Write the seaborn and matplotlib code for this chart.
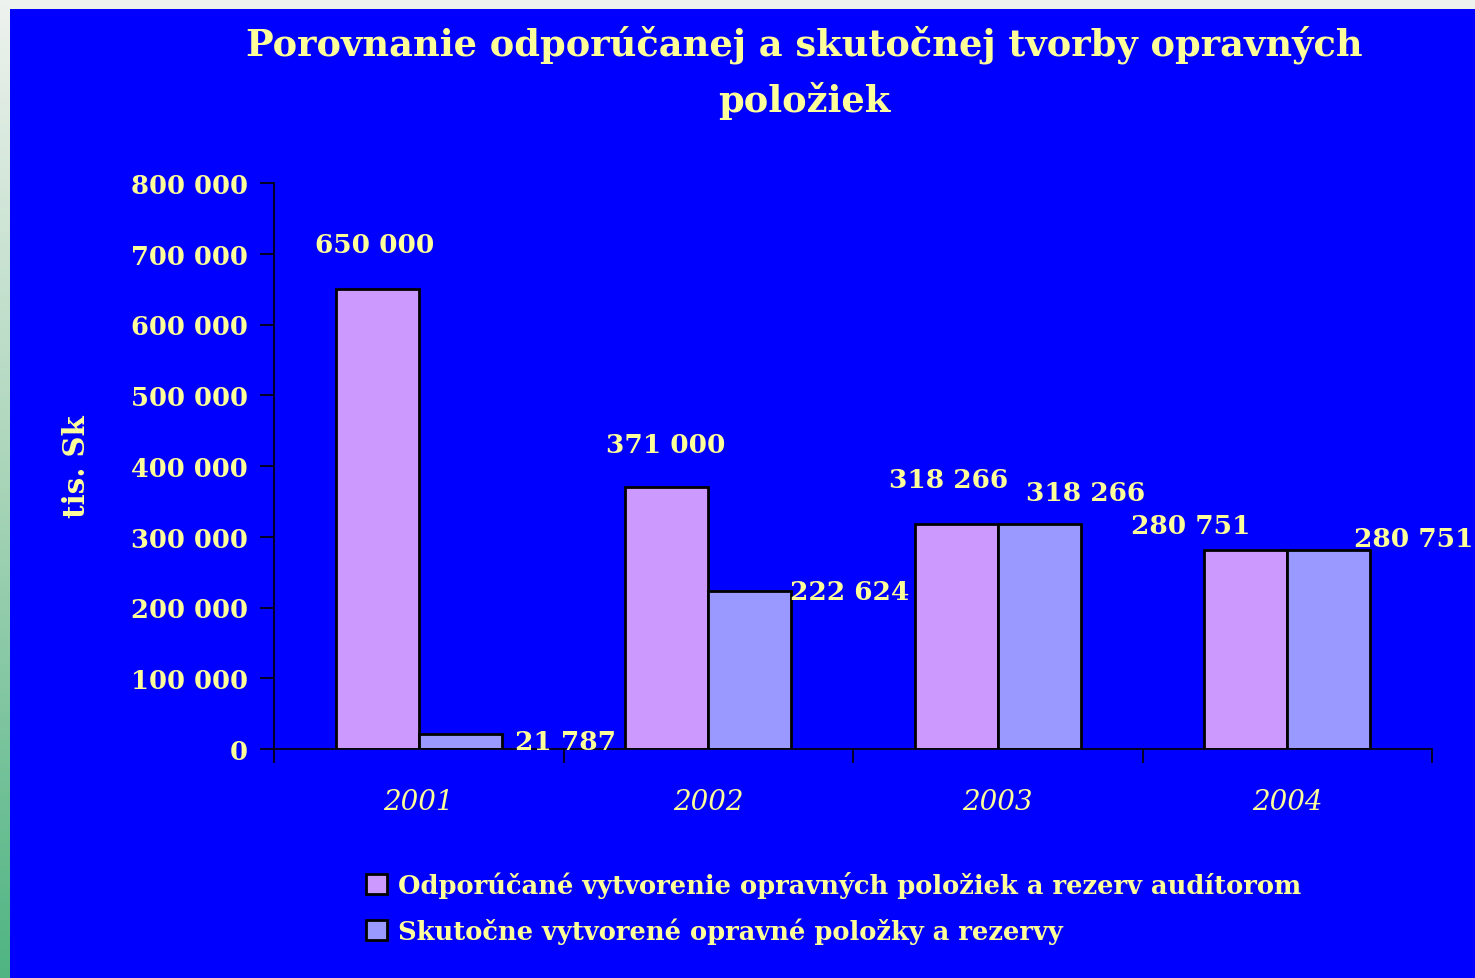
import numpy as np
import pandas as pd
import matplotlib.pyplot as plt
import seaborn as sns
from matplotlib.patches import Rectangle, Patch
from matplotlib.colors import LinearSegmentedColormap

# data
years = ['2001', '2002', '2003', '2004']
recommended = [650000, 371000, 318266, 280751]
actual = [21787, 222624, 318266, 280751]
series_names = ['Odporúčané vytvorenie opravných položiek a rezerv audítorom',
                'Skutočne vytvorené opravné položky a rezervy']
title = 'Porovnanie odporúčanej a skutočnej tvorby opravných\npoložiek'
y_ticks = [0, 100000, 200000, 300000, 400000, 500000, 600000, 700000, 800000]

BG = '#0000FF'
TXT = '#FFFF99'
COLORS = ['#CC99FF', '#9999FF']

df = pd.DataFrame({
    'year': years * 2,
    'value': recommended + actual,
    'series': [series_names[0]] * 4 + [series_names[1]] * 4,
})

sns.set_style('white')
plt.rcParams['font.family'] = ['DejaVu Serif']

fig = plt.figure(figsize=(14.75, 9.79), dpi=100)
fig.patch.set_facecolor('#EEF2EE')
# blue slide area
fig.add_artist(Rectangle((10 / 1475, 0), 1, 1 - 10 / 979, transform=fig.transFigure,
                         facecolor=BG, edgecolor='none', zorder=0))
# left strip gradient
strip = fig.add_axes([0, 0, 10 / 1475, 1])
grad = np.linspace(0, 1, 256).reshape(-1, 1)
cm = LinearSegmentedColormap.from_list('strip', ['#EEF2EE', '#A8D4B8', '#4FB482'])
strip.imshow(grad, aspect='auto', cmap=cm)
strip.axis('off')

ax = fig.add_axes([274 / 1475, 1 - 750 / 979, (1432 - 274) / 1475, (750 - 184) / 979])
ax.set_facecolor(BG)

sns.barplot(data=df, x='year', y='value', hue='series', palette=COLORS,
            width=0.572, gap=0, edgecolor='black', linewidth=2,
            saturation=1, legend=False, ax=ax)

ax.set_xlim(-0.5, 3.5)
ax.set_ylim(0, 800000)
ax.set_yticks(y_ticks)
ax.set_yticklabels([f'{v:,}'.replace(',', ' ') for v in y_ticks])
ax.set_xticks([-0.5, 0.5, 1.5, 2.5, 3.5])
ax.set_xticklabels([])
ax.set_xticks(range(4), minor=True)
ax.set_xticklabels(years, minor=True, style='italic', fontsize=20, color=TXT)
ax.tick_params(axis='x', which='major', direction='out', length=10, width=1.2, color='black', bottom=True)
ax.tick_params(axis='x', which='minor', length=0, pad=28)
ax.tick_params(axis='y', direction='out', length=10, width=1.2, color='black', left=True,
               labelsize=18.5, labelcolor=TXT, pad=9)
for lab in ax.get_yticklabels():
    lab.set_fontweight('bold')

for side in ['top', 'right']:
    ax.spines[side].set_visible(False)
for side in ['left', 'bottom']:
    ax.spines[side].set_color('black')
    ax.spines[side].set_linewidth(1.2)

ax.set_xlabel('')
ax.set_ylabel('tis. Sk', fontsize=21, fontweight='bold', color=TXT)
ax.yaxis.set_label_coords(-183 / 1158, (750 - 467) / 566)

# data labels, offsets in pixels relative to bar top centre
offsets = [
    [(-3, 45), (-1, 42), (-8, 44), (-55, 25)],
    [(105, -8), (100, 0), (46, 31), (85, 12)],
]
for cont, vals, offs in zip(ax.containers, [recommended, actual], offsets):
    for bar, v, (dx, dy) in zip(cont, vals, offs):
        ax.annotate(f'{v:,}'.replace(',', ' '),
                    (bar.get_x() + bar.get_width() / 2, bar.get_height()),
                    xytext=(dx, dy), textcoords='offset pixels',
                    ha='center', va='center', fontsize=19, fontweight='bold', color=TXT)

fig.text(804 / 1475, 1 - 73 / 979, title, ha='center', va='center', fontsize=26.5,
         fontweight='bold', color=TXT, linespacing=1.6)

handles = [Patch(facecolor=c, edgecolor='black', linewidth=2) for c in COLORS]
fig.legend(handles, series_names, loc='upper left', bbox_to_anchor=(343 / 1475, 1 - 849 / 979),
           frameon=False, handlelength=0.8, handleheight=0.8, handletextpad=0.45,
           labelspacing=0.75, prop={'size': 18.5, 'weight': 'bold'}, labelcolor=TXT)

fig.savefig('out.png', dpi=100, facecolor=fig.get_facecolor())
